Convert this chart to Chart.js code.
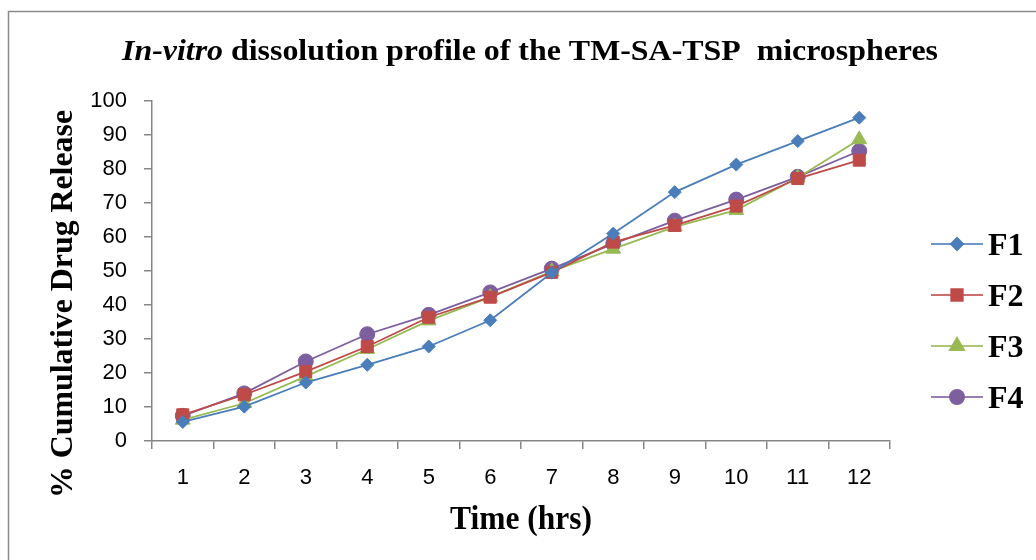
<!DOCTYPE html>
<html>
<head>
<meta charset="utf-8">
<title>In-vitro dissolution profile</title>
<script src="https://cdn.jsdelivr.net/npm/chart.js@4/dist/chart.umd.min.js"></script>
<style>
  html, body { margin:0; padding:0; background:#fff; }
  #wrap { width:1036px; height:560px; }
</style>
</head>
<body>
<div id="wrap"><canvas id="chart" width="1036" height="560"></canvas></div>
<script>
// data
const hours = ['1','2','3','4','5','6','7','8','9','10','11','12'];
const seriesNames = ['F1','F2','F3','F4'];
const f1 = [5.6, 10.1, 17.2, 22.4, 27.8, 35.5, 49.5, 61.0, 73.2, 81.3, 88.2, 95.1];
const f2 = [7.7, 13.6, 20.4, 27.8, 36.4, 42.3, 49.6, 58.5, 63.4, 69.1, 77.2, 82.6];
const f3 = [6.2, 11.1, 19.0, 27.0, 35.4, 42.3, 49.9, 56.5, 63.0, 67.9, 77.4, 88.7];
const f4 = [7.4, 14.0, 23.4, 31.4, 37.1, 43.7, 50.7, 58.0, 64.8, 71.0, 77.7, 85.3];
const yTicks = [0,10,20,30,40,50,60,70,80,90,100];

const colors = ['#4A7EBB','#BE4B48','#98B954','#7D5FA0'];
const markers = [
  {style:'rectRot', r:6.5},
  {style:'rect', r:8.5},
  {style:'triangle', r:8.5},
  {style:'circle', r:7.5}
];
const serif = '"Liberation Serif", "Times New Roman", serif';
const tickFont = { family: '"Liberation Sans", Arial, sans-serif', size: 22 };

// draws text with a horizontal squeeze so it fits a target width
function fitText(ctx, parts, x, y, targetW, align){
  let total = 0;
  parts.forEach(p => { ctx.font = p.font; total += ctx.measureText(p.text).width; });
  const sx = targetW / total;
  ctx.save();
  ctx.translate(x, y);
  ctx.scale(sx, 1);
  let cx = align === 'center' ? -total/2 : 0;
  ctx.textBaseline = 'alphabetic';
  ctx.textAlign = 'left';
  parts.forEach(p => { ctx.font = p.font; ctx.fillText(p.text, cx, 0); cx += ctx.measureText(p.text).width; });
  ctx.restore();
}

const decor = {
  id: 'decor',
  beforeDraw(chart){
    const ctx = chart.ctx;
    ctx.save();
    ctx.fillStyle = '#fff';
    ctx.fillRect(0,0,chart.width,chart.height);
    ctx.strokeStyle = '#8a8a8a';
    ctx.lineWidth = 1.5;
    ctx.beginPath();
    ctx.moveTo(8.5, 560); ctx.lineTo(8.5, 11.5); ctx.lineTo(1036, 11.5);
    ctx.stroke();
    ctx.restore();
  },
  afterDraw(chart){
    const ctx = chart.ctx;
    ctx.save();
    ctx.fillStyle = '#000';
    // title
    fitText(ctx, [
      {text:'In-vitro', font:'italic bold 30px ' + serif},
      {text:' dissolution profile of the TM-SA-TSP  microspheres', font:'bold 30px ' + serif}
    ], 122, 60, 816, 'left');
    // x axis title
    fitText(ctx, [{text:'Time (hrs)', font:'bold 33px ' + serif}], 521, 529, 142, 'center');
    // y axis title
    ctx.save();
    ctx.translate(72, 304);
    ctx.rotate(-Math.PI/2);
    fitText(ctx, [{text:'% Cumulative Drug Release', font:'bold 32px ' + serif}], 0, 0, 388, 'center');
    ctx.restore();

    // legend: line with marker, then label
    chart.data.datasets.forEach((ds, i) => {
      const y = 244 + i*51;
      ctx.strokeStyle = ds.borderColor;
      ctx.globalAlpha = 0.8;
      ctx.lineWidth = 2;
      ctx.beginPath(); ctx.moveTo(931, y); ctx.lineTo(983, y); ctx.stroke();
      ctx.globalAlpha = 1;
      ctx.fillStyle = ds.backgroundColor;
      Chart.helpers.drawPoint(ctx, {pointStyle: ds.pointStyle, radius: ds.pointRadius - 0.5, borderWidth: 1, rotation: 0}, 957, y);
      ctx.fillStyle = '#000';
      ctx.font = 'bold 32px ' + serif;
      ctx.textBaseline = 'alphabetic';
      ctx.textAlign = 'left';
      ctx.fillText(ds.label, 988, y + 11);
    });
    ctx.restore();
  }
};

const datasets = [f1, f2, f3, f4].map((vals, i) => ({
  label: seriesNames[i],
  data: vals,
  borderColor: colors[i],
  backgroundColor: colors[i],
  borderWidth: 1.8,
  pointStyle: markers[i].style,
  pointRadius: markers[i].r,
  pointBorderWidth: 1,
  tension: 0,
  fill: false
}));

new Chart(document.getElementById('chart'), {
  type: 'line',
  data: { labels: hours, datasets: datasets },
  options: {
    responsive: false,
    animation: false,
    devicePixelRatio: 1,
    layout: { padding: { top: 101, right: 146, bottom: 0, left: 0 } },
    plugins: { legend: { display: false }, title: { display: false }, tooltip: { enabled: false } },
    scales: {
      x: {
        type: 'category',
        offset: true,
        grid: { offset: true, drawOnChartArea: false, drawTicks: true, tickLength: 8, color: '#868686', lineWidth: 1.5 },
        border: { color: '#868686', width: 1.5 },
        ticks: { color: '#000', font: tickFont, padding: 16, maxRotation: 0 },
        afterFit(s){ s.height = 119; }
      },
      y: {
        min: 0, max: 100,
        afterBuildTicks(s){ s.ticks = yTicks.map(v => ({value: v})); },
        grid: { drawOnChartArea: false, drawTicks: true, tickLength: 8, color: '#868686', lineWidth: 1.5 },
        border: { color: '#868686', width: 1.5 },
        ticks: { color: '#000', font: tickFont, padding: 17 },
        afterFit(s){ s.width = 152; }
      }
    }
  },
  plugins: [decor]
});
</script>
</body>
</html>
